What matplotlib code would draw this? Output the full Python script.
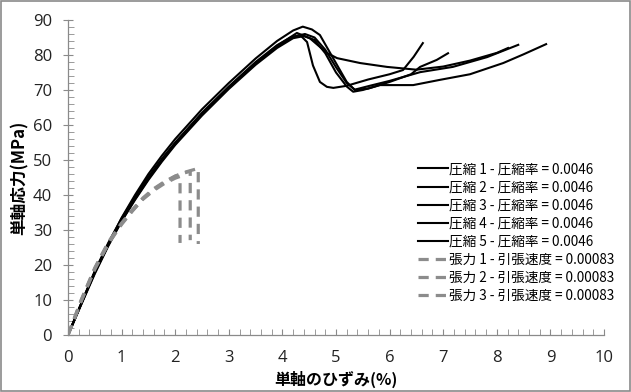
import numpy as np
import matplotlib.pyplot as plt
from matplotlib.patches import Rectangle
from matplotlib.ticker import MultipleLocator

plt.rcParams['font.family'] = ['Noto Sans CJK JP', 'DejaVu Sans']

# ----------------------------
# Data
# ----------------------------
comp_labels = ["圧縮 1 - 圧縮率 = 0.0046", "圧縮 2 - 圧縮率 = 0.0046",
               "圧縮 3 - 圧縮率 = 0.0046", "圧縮 4 - 圧縮率 = 0.0046",
               "圧縮 5 - 圧縮率 = 0.0046"]
tens_labels = ["張力 1 - 引張速度 = 0.00083", "張力 2 - 引張速度 = 0.00083",
               "張力 3 - 引張速度 = 0.00083"]

c1_x = [0, 0.25, 0.5, 0.75, 1.0, 1.25, 1.5, 1.75, 2.0, 2.5, 3.0, 3.5, 3.9, 4.2, 4.38,
        4.55, 4.7, 4.95, 5.2, 5.35, 5.6, 6.0, 6.4, 6.57, 6.88, 7.09]
c1_y = [0, 9, 18, 26, 33.5, 40, 46, 51.2, 56, 64.5, 72, 79, 84, 87, 88.1,
        87.3, 85.7, 79, 72.3, 70, 70.4, 72.3, 74.5, 76.6, 78.6, 80.5]

c2_x = [0, 0.25, 0.5, 0.75, 1.0, 1.25, 1.5, 1.75, 2.0, 2.5, 3.0, 3.5, 3.9, 4.15, 4.33,
        4.46, 4.57, 4.7, 4.83, 4.95, 5.2, 5.6, 6.0, 6.25, 6.45, 6.62]
c2_y = [0, 9.2, 18.3, 26.3, 33.3, 39.5, 45.2, 50.3, 55, 63.5, 71, 78, 82.8, 85, 85.7,
        83.7, 77, 72.3, 70.9, 70.6, 71.2, 73, 74.5, 75.7, 79.5, 83.4]

c3_x = [0, 0.25, 0.5, 0.75, 1.0, 1.25, 1.5, 1.75, 2.0, 2.5, 3.0, 3.5, 3.9, 4.27,
        4.51, 4.83, 5.02, 5.45, 5.95, 6.5, 7.0, 7.5, 8.0, 8.21]
c3_y = [0, 9, 17.8, 25.6, 32.6, 38.8, 44.6, 49.8, 54.6, 63, 70.6, 77.6, 82.6, 86.3,
        84.8, 80.6, 79.1, 77.7, 76.6, 75.8, 76.7, 78.4, 80.6, 82]

c4_x = [0, 0.25, 0.5, 0.75, 1.0, 1.25, 1.5, 1.75, 2.0, 2.5, 3.0, 3.5, 3.9, 4.2, 4.4,
        4.6, 4.8, 5.0, 5.2, 5.32, 5.5, 5.82, 6.44, 6.94, 7.5, 8.12, 8.5, 8.92]
c4_y = [0, 8.8, 17.5, 25.4, 32.5, 38.6, 44.3, 49.5, 54.3, 62.7, 70.3, 77.2, 82, 84.8, 85.4,
        84.3, 80.5, 75, 71, 69.5, 70, 71.4, 71.4, 72.9, 74.5, 77.7, 80.2, 83.1]

c5_x = [0, 0.25, 0.5, 0.75, 1.0, 1.25, 1.5, 1.75, 2.0, 2.5, 3.0, 3.5, 3.9, 4.2, 4.42,
        4.6, 4.8, 5.0, 5.2, 5.35, 5.63, 6.0, 6.57, 7.18, 7.82, 8.4]
c5_y = [0, 9.1, 18, 25.8, 33, 39.2, 45, 50.1, 54.8, 63.2, 70.8, 77.6, 82.4, 85.2, 86,
        85, 81.5, 76.5, 72, 70.1, 71.2, 72.6, 75.1, 76.6, 79.4, 82.9]

t1_x = [0, 0.25, 0.5, 0.75, 1.0, 1.2, 1.4, 1.6, 1.8, 2.0, 2.09, 2.09]
t1_y = [0, 10, 19, 26.2, 31.8, 35.5, 38.8, 41.3, 43.3, 44.8, 45.3, 26.3]
t2_x = [0, 0.25, 0.5, 0.75, 1.0, 1.2, 1.4, 1.6, 1.8, 2.0, 2.15, 2.28, 2.28]
t2_y = [0, 10.2, 19.2, 26.5, 32, 35.8, 39.2, 41.8, 43.8, 45.4, 46.2, 46.8, 27.1]
t3_x = [0, 0.25, 0.5, 0.75, 1.0, 1.2, 1.4, 1.6, 1.8, 2.0, 2.2, 2.43, 2.43]
t3_y = [0, 9.8, 18.8, 26, 31.6, 35.4, 38.9, 41.6, 43.7, 45.4, 46.6, 47.6, 26]

comp_x = [c1_x, c2_x, c3_x, c4_x, c5_x]
comp_y = [c1_y, c2_y, c3_y, c4_y, c5_y]
tens_x = [t1_x, t2_x, t3_x]
tens_y = [t1_y, t2_y, t3_y]

# ----------------------------
# Plot
# ----------------------------
fig = plt.figure(figsize=(6.31, 3.92), dpi=100)
ax = fig.add_axes([0.1078, 0.1454, 0.8494, 0.8036])

for xs, ys, lab in zip(comp_x, comp_y, comp_labels):
    ax.plot(xs, ys, color="black", lw=1.5, label=lab)
for xs, ys, lab in zip(tens_x, tens_y, tens_labels):
    ax.plot(xs, ys, color="#8c8c8c", lw=2.3, dashes=(3.2, 2.2), label=lab)

ax.set_xlim(0, 10)
ax.set_ylim(0, 90)
ax.xaxis.set_major_locator(MultipleLocator(1))
ax.xaxis.set_minor_locator(MultipleLocator(0.2))
ax.yaxis.set_major_locator(MultipleLocator(10))
ax.yaxis.set_minor_locator(MultipleLocator(2))

grey = "#8a8a8a"
for side in ["top", "right"]:
    ax.spines[side].set_visible(False)
for side in ["left", "bottom"]:
    ax.spines[side].set_color(grey)
    ax.spines[side].set_linewidth(0.9)

ax.tick_params(axis="y", which="major", direction="inout", length=7, color=grey,
               labelsize=12, pad=8)
ax.tick_params(axis="y", which="minor", direction="in", length=4, color=grey)
ax.tick_params(axis="x", which="major", direction="in", length=4, color=grey,
               labelsize=12, pad=11)
ax.tick_params(axis="x", which="minor", direction="in", length=4, color=grey)
for lbl in ax.get_xticklabels() + ax.get_yticklabels():
    lbl.set_family(["Open Sans", "DejaVu Sans"])
    lbl.set_color("#222222")

ax.set_xlabel("単軸のひずみ(%)", fontsize=11.5, fontweight="bold", labelpad=3)
ax.set_ylabel("単軸応力(MPa)", fontsize=12, fontweight="bold", labelpad=3)

ax.legend(loc="lower right", bbox_to_anchor=(1.03, 0.085), frameon=False,
          fontsize=9.8, handlelength=2.2, handletextpad=0.1, labelspacing=0.3,
          borderaxespad=0)

fig.patches.append(Rectangle((0.001, 0.002), 0.997, 0.995, transform=fig.transFigure,
                             fill=False, edgecolor="#8a8a8a", lw=1.2))

fig.savefig("out.png", dpi=100)
